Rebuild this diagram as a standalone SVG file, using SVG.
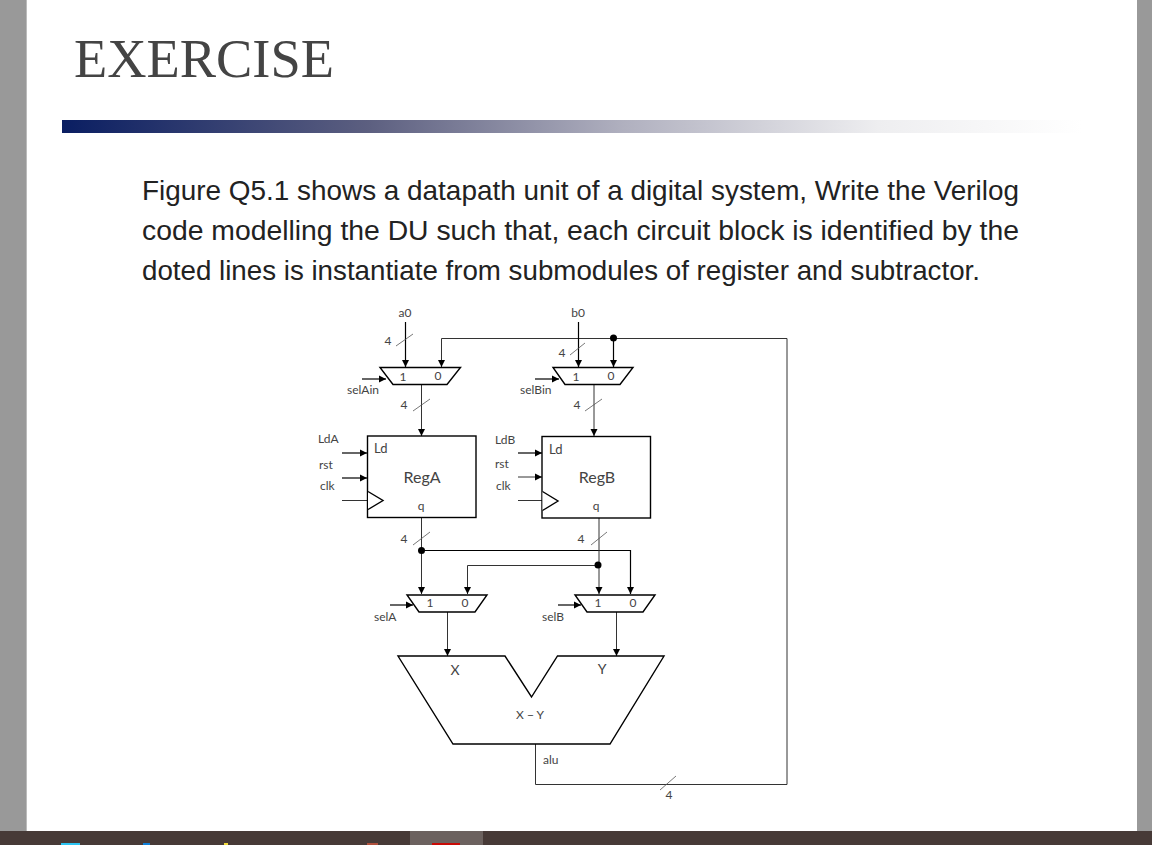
<svg xmlns="http://www.w3.org/2000/svg" width="1152" height="845" viewBox="0 0 1152 845">
<style>
.l{font-family:Lato,"Open Sans",sans-serif;font-size:12px;fill:#444}
.m{text-anchor:middle}
.b{font-family:"Liberation Sans",Arial,sans-serif;font-size:27.5px;fill:#222}
.w{fill:none;stroke:#333;stroke-width:1}
.k{fill:none;stroke:#000;stroke-width:1.2}
.a{marker-end:url(#ah)}
.s{fill:#fff;stroke:#000;stroke-width:1.4}
.t{fill:none;stroke:#555;stroke-width:.8}
</style>
<defs>
<marker id="ah" markerUnits="userSpaceOnUse" markerWidth="8" markerHeight="8" refX="7" refY="4" orient="auto"><path d="M0,0.5L7,4L0,7.500Z" fill="#000"/></marker>
<linearGradient id="g"><stop offset="0" stop-color="#0a1e62"/><stop offset=".3" stop-color="#5c5f80"/><stop offset=".55" stop-color="#b0b0bf"/><stop offset=".8" stop-color="#eeeef0"/><stop offset="1" stop-color="#fff"/></linearGradient>
</defs>
<rect width="1152" height="845" fill="#fff"/>
<rect width="26" height="831" fill="#999"/>
<rect x="26" width="1" height="831" fill="#bbb"/>
<rect x="1137" width="15" height="831" fill="#999"/>
<rect y="831" width="1152" height="14" fill="#473a37"/>
<rect x="410" y="831" width="73" height="14" fill="#6c625f"/>
<rect x="61" y="843" width="19" height="2" fill="#2cc4f2"/>
<rect x="143" y="843" width="7" height="2" fill="#0f7fd8"/>
<rect x="224" y="843" width="4" height="2" fill="#f2dc3c"/>
<rect x="367" y="843" width="11" height="2" fill="#b0503c"/>
<rect x="432" y="843" width="28" height="2" fill="#c80a05"/>
<text x="74" y="77" font-family="'Liberation Serif','Times New Roman',serif" font-size="54" fill="#444" textLength="260" lengthAdjust="spacingAndGlyphs">EXERCISE</text>
<rect x="62" y="120" width="1020" height="13" fill="url(#g)"/>
<text class="b" x="142" y="200" textLength="877" lengthAdjust="spacingAndGlyphs">Figure Q5.1 shows a datapath unit of a digital system, Write the Verilog</text>
<text class="b" x="142" y="240" textLength="877" lengthAdjust="spacingAndGlyphs">code modelling the DU such that, each circuit block is identified by the</text>
<text class="b" x="142" y="280" textLength="838" lengthAdjust="spacingAndGlyphs">doted lines is instantiate from submodules of register and subtractor.</text>

<g id="connectors">
<path class="k a" d="M405.500 322V367"/>
<path class="w a" d="M535.500 744V784.500H787V338.500H441.500V367"/>
<path class="k a" d="M613.500 338.500V367"/>
<path class="k a" d="M578.500 322V367"/>
<path class="w a" d="M421.500 384V436"/>
<path class="w a" d="M594 384V436"/>
<path class="k a" d="M342 453H367"/>
<path class="k a" d="M342 478H367"/>
<path class="w" d="M342 500.500H367"/>
<path class="k a" d="M518 453H542"/>
<path class="w a" d="M518 477H542"/>
<path class="w" d="M518 500.500H542"/>
<path class="w a" d="M421.500 518V594"/>
<path class="k a" d="M421.500 550.500H630.500V594"/>
<path class="w a" d="M599 518V594"/>
<path class="w a" d="M598 565.500H467.500V594"/>
<path class="w a" d="M447.500 612V656"/>
<path class="w a" d="M616.500 612V656"/>
<path class="k a" d="M390 605H413"/>
<path class="k a" d="M558 605H581"/>
<path class="k a" d="M362 379H386"/>
<path class="k a" d="M535 379H559"/>
<path class="t" d="M396 346L413 334M570 355L585 343M413 411L430 399M585 411L602 399M413 545L430 532M591 545L607 532M660 790L676 776"/>
<circle cx="613.500" cy="338" r="3.500"/>
<circle cx="421.500" cy="550.500" r="3.500"/>
<circle cx="598" cy="565" r="3.500"/>
</g>

<g id="input-labels">
<text class="l m" x="405" y="317">a0</text>
<text class="l m" x="578" y="317">b0</text>
<text class="l m" x="388" y="345">4</text>
<text class="l m" x="562" y="357">4</text>
<text class="l m" x="404" y="409">4</text>
<text class="l m" x="577" y="409">4</text>
<text class="l m" x="404" y="543">4</text>
<text class="l m" x="581" y="543">4</text>
<text class="l m" x="669" y="799">4</text>
<text class="l" x="318" y="443">LdA</text>
<text class="l" x="319" y="469">rst</text>
<text class="l" x="320" y="490">clk</text>
<text class="l" x="495" y="444">LdB</text>
<text class="l" x="495" y="468">rst</text>
<text class="l" x="496" y="490">clk</text>
</g>

<g id="muxAin"><path class="s" d="M380 367.500H460.500L447 384.500H393Z"/><text class="l m" x="403" y="381">1</text><text class="l m" x="438" y="380">0</text><text class="l" x="347" y="394">selAin</text></g>
<g id="muxBin"><path class="s" d="M553 367.500H633L620 384.500H565Z"/><text class="l m" x="576" y="381">1</text><text class="l m" x="611" y="380">0</text><text class="l" x="520" y="394">selBin</text></g>
<g id="RegA"><rect class="s" x="367.500" y="436" width="108.500" height="81.500"/><path class="s" d="M368 491.500L383 500.500L368 509.500"/><text class="l" x="374" y="453" style="font-size:13px">Ld</text><text class="l m" x="422" y="483" style="font-size:16px">RegA</text><text class="l m" x="421" y="510">q</text></g>
<g id="RegB"><rect class="s" x="542" y="436.500" width="108.500" height="81.500"/><path class="s" d="M542.500 491.500L558 501L542.500 510.500"/><text class="l" x="549" y="454" style="font-size:13px">Ld</text><text class="l m" x="597" y="483" style="font-size:16px">RegB</text><text class="l m" x="596" y="510">q</text></g>
<g id="muxA"><path class="s" d="M407 595H487L475 612H419Z"/><text class="l m" x="430" y="607">1</text><text class="l m" x="465" y="607">0</text><text class="l" x="374" y="621">selA</text></g>
<g id="muxB"><path class="s" d="M575 595H655L643 612H587Z"/><text class="l m" x="598" y="607">1</text><text class="l m" x="633" y="607">0</text><text class="l" x="542" y="621">selB</text></g>
<g id="ALU"><path class="s" d="M398 656H505L531.500 697L557.500 656H664L610 744H453Z"/><text class="l m" x="455" y="675" style="font-size:14px">X</text><text class="l m" x="602" y="674" style="font-size:14px">Y</text><text class="l m" x="530" y="719">X − Y</text><text class="l" x="543" y="764">alu</text></g>
</svg>
